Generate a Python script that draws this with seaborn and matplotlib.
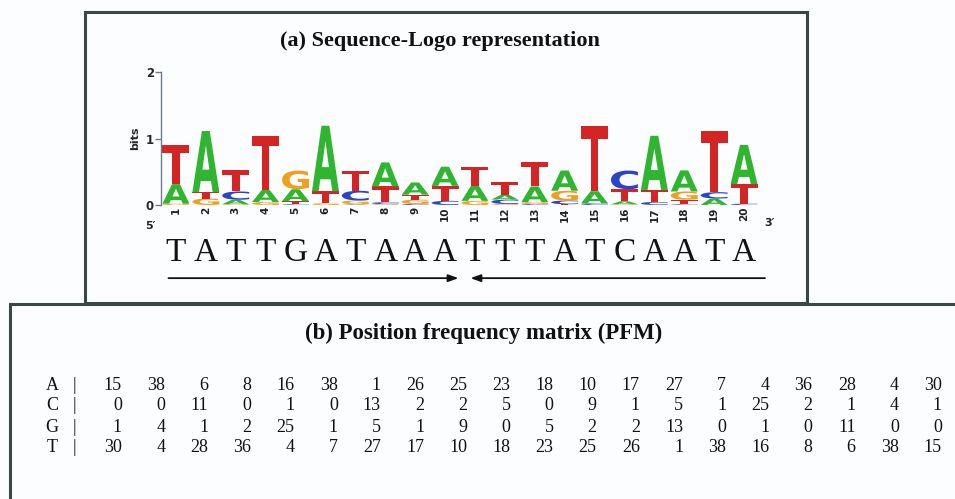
import numpy as np
import matplotlib
matplotlib.use("Agg")
import matplotlib.pyplot as plt
import seaborn as sns
from matplotlib.textpath import TextPath
from matplotlib.patches import PathPatch, Rectangle
from matplotlib.font_manager import FontProperties
from matplotlib import transforms

# position frequency matrix (PFM), 20 positions
bases = ["A", "C", "G", "T"]
pfm_A = [15, 38, 6, 8, 16, 38, 1, 26, 25, 23, 18, 10, 17, 27, 7, 4, 36, 28, 4, 30]
pfm_C = [0, 0, 11, 0, 1, 0, 13, 2, 2, 5, 0, 9, 1, 5, 1, 25, 2, 1, 4, 1]
pfm_G = [1, 4, 1, 2, 25, 1, 5, 1, 9, 0, 5, 2, 2, 13, 0, 1, 0, 11, 0, 0]
pfm_T = [30, 4, 28, 36, 4, 7, 27, 17, 10, 18, 23, 25, 26, 1, 38, 16, 8, 6, 38, 15]
consensus = "TATTGATAAATTTATCAATA"
positions = list(range(1, 21))

letter_colors = {"A": "#2fb52f", "C": "#2a45c8", "G": "#f0a020", "T": "#d42424"}

sns.set_theme(style="white")
plt.rcParams["font.family"] = ["DejaVu Sans"]

W, H = 955, 499
fig = plt.figure(figsize=(W / 100, H / 100), dpi=100)
fig.patch.set_facecolor("#fcfdfe")


def fx(px):
    return px / W


def fy(py):
    return 1 - py / H


# panel boxes
box_kw = dict(fill=False, lw=2.2, ec="#3b4646", transform=fig.transFigure)
fig.add_artist(Rectangle((fx(85), fy(303)), fx(807) - fx(85), fy(12) - fy(303), **box_kw))
fig.add_artist(Rectangle((fx(10), fy(560)), fx(1100) - fx(10), fy(304) - fy(560), **box_kw))

serif = "Liberation Serif"
fig.text(fx(440), fy(41), "(a) Sequence-Logo representation", ha="center", va="center",
         family=serif, weight="bold", fontsize=16, color="#111")
fig.text(fx(484), fy(333), "(b) Position frequency matrix (PFM)", ha="center", va="center",
         family=serif, weight="bold", fontsize=16.5, color="#111")

# ---- sequence logo ----
col_w = 29.9
ax = fig.add_axes([fx(161), fy(205), 20 * col_w / W, (205 - 72) / H])
ax.set_facecolor("none")
ax.set_xlim(0.5, 20.5)
ax.set_ylim(0, 2)
sns.despine(ax=ax, bottom=True)
ax.spines["left"].set_color("#6d7d90")
ax.spines["left"].set_linewidth(1.0)
ax.set_yticks([0, 1, 2])
ax.set_yticklabels(["0", "1", "2"], fontsize=8.5, weight="bold")
ax.tick_params(axis="y", left=True, length=4, width=1, color="#6d7d90", pad=1)
ax.set_xticks([])
ax.set_ylabel("bits", fontsize=8, weight="bold", labelpad=4)

counts = np.array([pfm_A, pfm_C, pfm_G, pfm_T], dtype=float)
n = counts.sum(axis=0)
probs = counts / n
with np.errstate(divide="ignore", invalid="ignore"):
    ent = -np.nansum(np.where(probs > 0, probs * np.log2(probs), 0), axis=0)
ic = np.clip(2 - ent - 3 / (2 * np.log(2) * n), 0, None)
heights = probs * ic

logo_font = FontProperties(family="DejaVu Sans", weight="bold")
glyphs = {}
for b in bases:
    tp = TextPath((0, 0), b, size=1, prop=logo_font)
    glyphs[b] = (tp, tp.get_extents())

letter_w = 0.9
for i, pos in enumerate(positions):
    order = np.argsort(heights[:, i])
    y0 = 0.0
    for k in order:
        h = heights[k, i]
        if h <= 0.001:
            continue
        b = bases[k]
        tp, bb = glyphs[b]
        t = (transforms.Affine2D()
             .translate(-bb.x0, -bb.y0)
             .scale(letter_w / bb.width, h / bb.height)
             .translate(pos - letter_w / 2, y0))
        ax.add_patch(PathPatch(tp, transform=t + ax.transData, fc=letter_colors[b], ec="none",
                               clip_on=False))
        y0 += h
    ax.text(pos, -0.03, str(pos), rotation=90, ha="center", va="top", fontsize=7.5,
            weight="bold", color="#222", clip_on=False)

ax.text(0.15, -0.31, "5\u2032", ha="center", va="center", fontsize=8, weight="bold", color="#222")
ax.text(20.85, -0.27, "3\u2032", ha="center", va="center", fontsize=8, weight="bold", color="#222")

for pos, b in zip(positions, consensus):
    ax.text(pos, -0.72, b, ha="center", va="center", family=serif, fontsize=24, color="#111")

arrow_kw = dict(arrowstyle="-|>,head_length=0.5,head_width=0.18", lw=1.3, color="#111",
                shrinkA=0, shrinkB=0)
ax.annotate("", xy=(10.45, -1.1), xytext=(0.75, -1.1), arrowprops=arrow_kw, annotation_clip=False)
ax.annotate("", xy=(10.85, -1.1), xytext=(20.7, -1.1), arrowprops=arrow_kw, annotation_clip=False)

# ---- PFM table ----
row_y = [386, 406, 427, 447]
col_step = (942 - 122) / 19
for r, (b, vals) in enumerate(zip(bases, [pfm_A, pfm_C, pfm_G, pfm_T])):
    y = fy(row_y[r])
    fig.text(fx(52), y, b, ha="center", va="center", family=serif, fontsize=13, color="#111")
    fig.text(fx(74), y, "|", ha="center", va="center", family=serif, fontsize=13, color="#111")
    for j, v in enumerate(vals):
        fig.text(fx(122 + j * col_step), y, str(v), ha="right", va="center", family=serif,
                 fontsize=13, color="#111")

fig.savefig("out.png", dpi=100, facecolor=fig.get_facecolor())
